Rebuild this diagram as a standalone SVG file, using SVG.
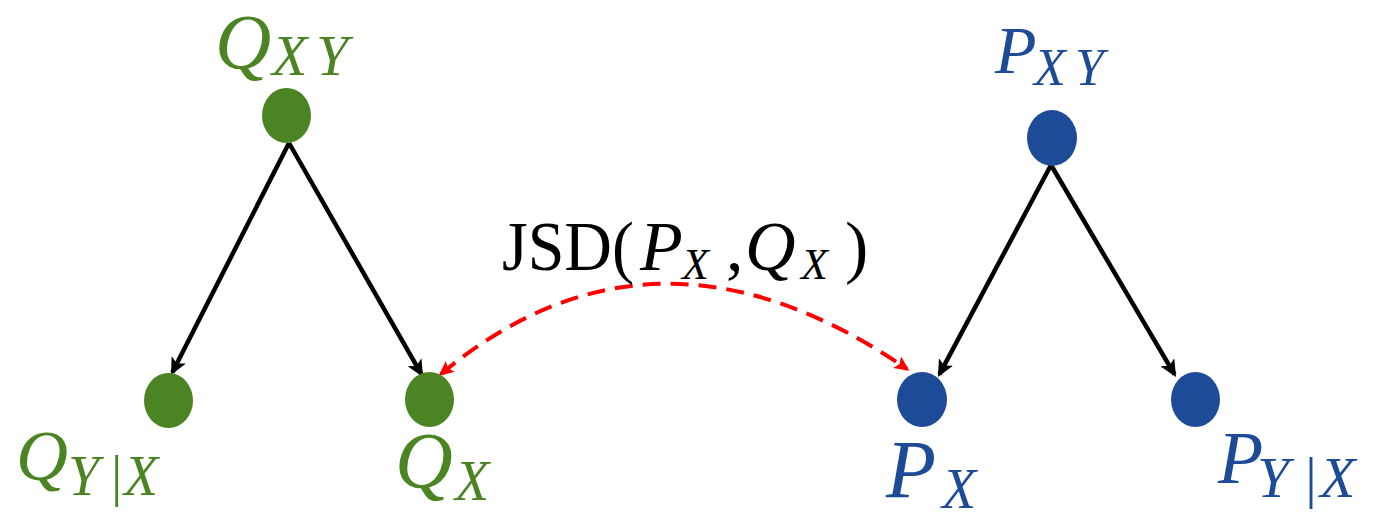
<svg xmlns="http://www.w3.org/2000/svg" width="1376" height="518" viewBox="0 0 1376 518">
<style>
  .g { fill: #4B8423; }
  .b { fill: #1E4B98; }
  .m { font-family: "Liberation Serif", "DejaVu Serif", serif; font-style: italic; }
  .r { font-family: "Liberation Serif", "DejaVu Serif", serif; }
  .edge { stroke: #000; stroke-width: 4.5; fill: none; }
  .jsd { stroke: #FF0000; stroke-width: 4; fill: none; stroke-dasharray: 18 10; }
</style>
<defs>
  <marker id="ah" markerUnits="userSpaceOnUse" markerWidth="18" markerHeight="16" viewBox="0 0 18 16" refX="14" refY="8" orient="auto">
    <path d="M0,0 L17,8 L0,16 L4,8 z" fill="#000"/>
  </marker>
  <marker id="rh" markerUnits="userSpaceOnUse" markerWidth="16" markerHeight="14" viewBox="0 0 16 14" refX="12" refY="7" orient="auto-start-reverse">
    <path d="M0,0 L15,7 L0,14 L3,7 z" fill="#FF0000"/>
  </marker>
</defs>

<g id="connectors">
  <line class="edge" x1="289" y1="143" x2="172.4" y2="372.3" marker-end="url(#ah)"/>
  <line class="edge" x1="289" y1="143" x2="421.5" y2="374.4" marker-end="url(#ah)"/>
  <line class="edge" x1="1051" y1="165" x2="939.4" y2="374.4" marker-end="url(#ah)"/>
  <line class="edge" x1="1051" y1="165" x2="1174.5" y2="374.4" marker-end="url(#ah)"/>
  <path class="jsd" d="M441,374 Q655,196 907,369" marker-start="url(#rh)" marker-end="url(#rh)"/>
</g>

<g id="node-QXY">
  <ellipse class="g" cx="286.5" cy="115.5" rx="24.5" ry="27.5"/>
  <text class="m g" x="215" y="68" font-size="78">Q</text>
  <text class="m g" x="272 316" y="75" font-size="58">XY</text>
</g>

<g id="node-QYX">
  <ellipse class="g" cx="168.5" cy="400.5" rx="24.5" ry="27.5"/>
  <text class="m g" x="16" y="480" font-size="72">Q</text>
  <text class="m g" x="68 108 124" y="495" font-size="56">Y|X</text>
</g>

<g id="node-QX">
  <ellipse class="g" cx="429.5" cy="399.5" rx="24.5" ry="27.5"/>
  <text class="m g" x="395" y="488" font-size="80">Q</text>
  <text class="m g" x="455" y="500" font-size="56">X</text>
</g>

<g id="node-PXY">
  <ellipse class="b" cx="1052" cy="138" rx="25" ry="28"/>
  <text class="m b" x="995" y="73" font-size="68">P</text>
  <text class="m b" x="1034 1075" y="85" font-size="52">XY</text>
</g>

<g id="node-PX">
  <ellipse class="b" cx="922" cy="399.5" rx="25" ry="27.5"/>
  <text class="m b" x="886" y="497" font-size="82">P</text>
  <text class="m b" x="942" y="508" font-size="56">X</text>
</g>

<g id="node-PYX">
  <ellipse class="b" cx="1195.5" cy="399.5" rx="24.5" ry="27.5"/>
  <text class="m b" x="1218" y="483" font-size="74">P</text>
  <text class="m b" x="1257 1302 1320" y="497" font-size="58">Y|X</text>
</g>

<g id="label-JSD" fill="#000">
  <text class="r" x="502" y="270" font-size="70" textLength="132" lengthAdjust="spacingAndGlyphs">JSD(</text>
  <text class="m" x="640" y="270" font-size="70">P</text>
  <text class="m" x="682" y="279" font-size="44">X</text>
  <text class="r" x="726" y="270" font-size="70">,</text>
  <text class="m" x="745" y="270" font-size="70">Q</text>
  <text class="m" x="801" y="279" font-size="44">X</text>
  <text class="r" x="845" y="270" font-size="70">)</text>
</g>
</svg>
